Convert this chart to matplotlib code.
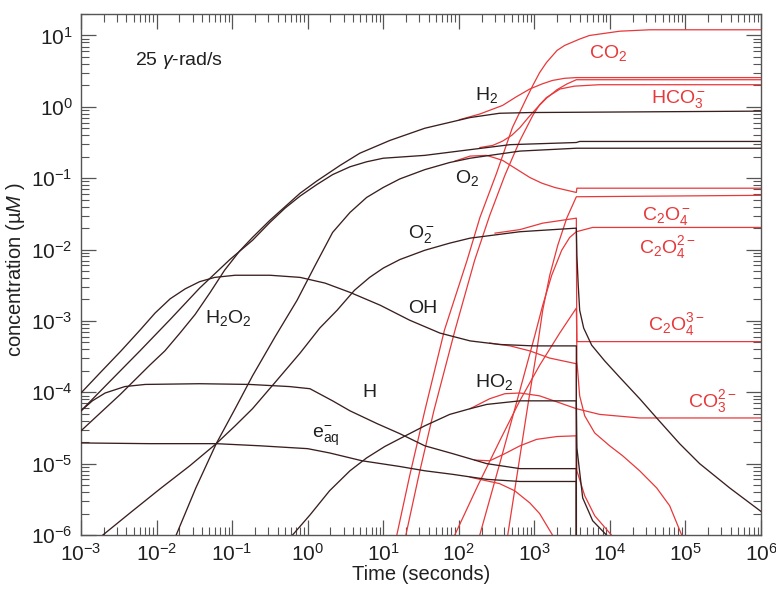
import numpy as np
import matplotlib
matplotlib.use("Agg")
import matplotlib.pyplot as plt

plt.rcParams['font.family'] = ['Liberation Sans', 'DejaVu Sans']
plt.rcParams['mathtext.fontset'] = 'custom'
plt.rcParams['mathtext.rm'] = 'Liberation Sans'
plt.rcParams['mathtext.it'] = 'Liberation Sans:italic'
plt.rcParams['mathtext.bf'] = 'Liberation Sans:bold'

# All series are given as log10(time / s) and log10(concentration / uM).
# Irradiation stops at 3600 s (log10 = 3.556); -9 marks a species that vanishes.

# ---- pure water (dark curves) ----
oh_t = [-3.0, -2.75, -2.47, -2.22, -2.02, -1.82, -1.62, -1.43, -1.23, -0.96, -0.50, -0.10, 0.23, 0.56,
        0.96, 1.35, 1.75, 2.15, 2.54, 2.99, 3.556, 3.557]
oh_c = [-4.01, -3.73, -3.42, -3.13, -2.89, -2.69, -2.55, -2.45, -2.39, -2.36, -2.36, -2.39, -2.47, -2.60,
        -2.78, -2.99, -3.17, -3.28, -3.33, -3.35, -3.35, -9]

h_t = [-3.0, -2.85, -2.68, -2.42, -2.15, -1.43, -0.77, -0.24, 0.03, 0.33, 0.56, 0.92, 1.22, 1.55, 1.92,
       2.37, 2.81, 3.556, 3.557]
h_c = [-4.26, -4.12, -4.01, -3.92, -3.89, -3.88, -3.89, -3.92, -3.95, -4.12, -4.26, -4.44, -4.58, -4.75,
       -4.86, -5.00, -5.07, -5.07, -9]

eaq_t = [-3.0, -2.09, -1.21, -0.63, 0.0, 0.29, 0.72, 1.22, 1.55, 1.92, 2.37, 2.81, 3.556, 3.557]
eaq_c = [-4.71, -4.72, -4.72, -4.75, -4.79, -4.85, -4.96, -5.04, -5.10, -5.15, -5.22, -5.25, -5.25, -9]

h2o2_t = [-3.0, -2.62, -2.22, -1.82, -1.43, -1.03, -0.73, -0.50, -0.30, -0.10, 0.12, 0.33, 0.56, 0.78,
          1.0, 1.55, 2.15, 2.68, 3.556, 3.60, 6.0]
h2o2_c = [-4.26, -3.85, -3.42, -2.98, -2.54, -2.14, -1.87, -1.62, -1.42, -1.25, -1.09, -0.95, -0.84, -0.77,
          -0.72, -0.68, -0.60, -0.53, -0.50, -0.485, -0.485]

h2_t = [-3.0, -2.48, -2.09, -1.89, -1.69, -1.49, -1.29, -1.10, -0.90, -0.73, -0.50, -0.30, -0.10, 0.12,
        0.43, 0.69, 1.09, 1.55, 2.15, 2.54, 2.94, 6.0]
h2_c = [-4.54, -4.03, -3.62, -3.42, -3.17, -2.91, -2.60, -2.29, -2.02, -1.83, -1.59, -1.40, -1.21, -1.04,
        -0.82, -0.65, -0.47, -0.30, -0.15, -0.09, -0.08, -0.06]

o2_t = [-1.74, -1.48, -1.21, -0.96, -0.73, -0.43, -0.14, 0.10, 0.33, 0.56, 0.78, 1.0, 1.22, 1.55, 1.88,
        2.15, 2.81, 3.556, 6.0]
o2_c = [-6.0, -5.34, -4.72, -4.23, -3.77, -3.22, -2.71, -2.22, -1.76, -1.48, -1.27, -1.13, -1.01, -0.88,
        -0.78, -0.72, -0.62, -0.58, -0.58]

o2m_t = [-2.71, -2.35, -1.95, -1.56, -1.21, -0.96, -0.73, -0.43, -0.10, 0.16, 0.39, 0.62, 0.82, 1.0, 1.22,
         1.55, 1.88, 2.15, 2.81, 3.556,
         3.563, 3.581, 3.60, 3.653, 3.759, 3.931, 4.13, 4.394, 4.619, 4.923, 5.188, 5.585, 6.0]
o2m_c = [-6.0, -5.69, -5.35, -5.03, -4.72, -4.47, -4.23, -3.86, -3.45, -3.10, -2.85, -2.57, -2.39, -2.26,
         -2.14, -2.01, -1.91, -1.84, -1.75, -1.70,
         -2.08, -2.50, -2.85, -3.10, -3.34, -3.56, -3.79, -4.09, -4.36, -4.72, -5.00, -5.34, -5.67]

ho2_t = [-0.20, 0.03, 0.29, 0.56, 0.78, 1.02, 1.22, 1.55, 1.88, 2.15, 2.37, 2.81, 3.556, 3.563, 3.64,
         3.772, 4.0]
ho2_c = [-6.0, -5.72, -5.38, -5.10, -4.92, -4.76, -4.65, -4.47, -4.31, -4.23, -4.17, -4.12, -4.12, -4.78,
         -5.48, -5.80, -6.05]

# ---- with oxalate (red curves) ----
co2_t = [1.18, 1.35, 1.55, 1.81, 2.11, 2.28, 2.50, 2.71, 2.90, 2.98, 3.07, 3.16, 3.30, 3.40, 3.60, 3.73,
         4.13, 4.53, 6.0]
co2_c = [-6.0, -5.17, -4.26, -3.13, -2.15, -1.55, -0.93, -0.29, 0.13, 0.30, 0.48, 0.62, 0.79, 0.86, 0.95,
         1.0, 1.06, 1.08, 1.08]

hco3_t = [1.30, 1.47, 1.67, 1.95, 2.21, 2.41, 2.61, 2.81, 2.98, 3.07, 3.16, 3.34, 3.53, 3.86, 6.0]
hco3_c = [-6.0, -5.17, -4.26, -3.13, -2.15, -1.52, -0.96, -0.47, -0.12, 0.03, 0.13, 0.25, 0.29, 0.31, 0.31]

h2_ox_t = [2.01, 2.28, 2.58, 2.76, 2.94, 3.10, 3.24, 3.40, 3.556, 6.0]
h2_ox_c = [-0.18, -0.10, 0.02, 0.14, 0.25, 0.32, 0.37, 0.40, 0.41, 0.41]

h2o2_ox_t = [2.28, 2.45, 2.58, 2.70, 2.81, 2.92, 3.03, 3.16, 3.30, 3.43, 3.556, 6.0]
h2o2_ox_c = [-0.57, -0.54, -0.48, -0.40, -0.29, -0.15, -0.02, 0.12, 0.24, 0.32, 0.38, 0.38]

o2_ox_t = [1.95, 2.15, 2.37, 2.58, 2.76, 2.94, 3.10, 3.27, 3.556, 3.563, 6.0]
o2_ox_c = [-0.76, -0.69, -0.68, -0.75, -0.87, -0.99, -1.07, -1.13, -1.20, -1.14, -1.14]

o2m_ox_t = [2.48, 2.81, 3.11, 3.556, 3.563, 3.60, 3.667, 3.799, 3.997, 4.169, 4.394, 4.619, 4.791, 4.95]
o2m_ox_c = [-1.77, -1.72, -1.63, -1.56, -3.56, -4.05, -4.33, -4.57, -4.75, -4.89, -5.10, -5.34, -5.59, -6.0]

oh_ox_t = [2.41, 2.68, 2.94, 3.20, 3.556, 3.557]
oh_ox_c = [-3.31, -3.35, -3.42, -3.52, -3.60, -9]

h_ox_t = [2.21, 2.41, 2.61, 2.81, 3.03, 3.30, 3.556, 3.563, 3.667, 3.799, 4.02]
h_ox_c = [-4.95, -4.96, -4.86, -4.75, -4.66, -4.62, -4.61, -5.10, -5.45, -5.73, -6.0]

eaq_ox_t = [2.15, 2.54, 2.74, 2.94, 3.07, 3.24]
eaq_ox_c = [-5.19, -5.28, -5.38, -5.55, -5.70, -6.0]

co3_t = [2.15, 2.41, 2.61, 2.81, 3.07, 3.34, 3.556, 3.865, 4.394, 6.0]
co3_c = [-4.23, -4.09, -4.02, -4.01, -4.05, -4.15, -4.23, -4.31, -4.36, -4.36]

c2o4m_t = [2.648, 2.78, 2.913, 3.032, 3.111, 3.204, 3.31, 3.429, 3.556, 6.0]
c2o4m_c = [-6.0, -5.10, -4.19, -3.42, -2.85, -2.36, -1.94, -1.56, -1.26, -1.24]

c2o42_t = [2.278, 2.542, 2.807, 3.005, 3.111, 3.23, 3.362, 3.468, 3.556, 3.772, 6.0]
c2o42_c = [-6.0, -5.00, -3.98, -3.21, -2.78, -2.36, -2.01, -1.83, -1.75, -1.69, -1.69]

c2o43_t = [1.947, 2.251, 2.542, 2.807, 3.071, 3.336, 3.556, 3.563, 6.0]
c2o43_c = [-6.0, -5.31, -4.68, -4.12, -3.62, -3.17, -2.82, -3.29, -3.29]

dark_series = [(oh_t, oh_c), (h_t, h_c), (eaq_t, eaq_c), (h2o2_t, h2o2_c), (h2_t, h2_c),
               (o2_t, o2_c), (o2m_t, o2m_c), (ho2_t, ho2_c)]
red_series = [(co2_t, co2_c), (hco3_t, hco3_c), (h2_ox_t, h2_ox_c), (h2o2_ox_t, h2o2_ox_c),
              (o2_ox_t, o2_ox_c), (o2m_ox_t, o2m_ox_c), (oh_ox_t, oh_ox_c), (h_ox_t, h_ox_c),
              (eaq_ox_t, eaq_ox_c), (co3_t, co3_c), (c2o4m_t, c2o4m_c), (c2o42_t, c2o42_c),
              (c2o43_t, c2o43_c)]

# label text, log10 t, log10 c (left / baseline anchor)
dark_labels = [(r'H$_2$', 2.21, 0.09), (r'O$_2$', 1.95, -1.07), (r'O$_2^-$', 1.33, -1.84),
               ('OH', 1.33, -2.89), (r'HO$_2$', 2.21, -3.93), ('H', 0.72, -4.07),
               (r'e$_{\mathrm{aq}}^{-}$', 0.06, -4.645), (r'H$_2$O$_2$', -1.36, -3.03)]
red_labels = [(r'CO$_2$', 3.73, 0.69), (r'HCO$_3^-$', 4.55, 0.05), (r'C$_2$O$_4^-$', 4.43, -1.59),
              (r'C$_2$O$_4^{2-}$', 4.39, -2.05), (r'C$_2$O$_4^{3-}$', 4.50, -3.13),
              (r'CO$_3^{2-}$', 5.03, -4.21)]

RED = '#e8383a'
DARK = '#3a1f1f'

fig = plt.figure(figsize=(7.76, 5.92), dpi=100)
ax = fig.add_axes([81 / 776, 1 - 535 / 592, 680 / 776, 521 / 592])

for lt, lc in red_series:
    ax.plot(10 ** np.asarray(lt), 10 ** np.asarray(lc), color=RED, lw=0.9, zorder=2)
for lt, lc in dark_series:
    ax.plot(10 ** np.asarray(lt), 10 ** np.asarray(lc), color=DARK, lw=0.95, zorder=3)

for txt, lt, lc in dark_labels:
    ax.text(10 ** lt, 10 ** lc, txt, fontsize=14, color='#202020', ha='left', va='baseline', zorder=5)
for txt, lt, lc in red_labels:
    ax.text(10 ** lt, 10 ** lc, txt, fontsize=14, color=RED, ha='left', va='baseline', zorder=5)
ax.text(10 ** -2.29, 10 ** 0.58, r'25 $\gamma$-rad/s', fontsize=14, color='#202020',
        ha='left', va='baseline')

ax.set_xscale('log')
ax.set_yscale('log')
ax.set_xlim(1e-3, 1e6)
ax.set_ylim(1e-6, 20)
ax.xaxis.set_major_locator(matplotlib.ticker.LogLocator(base=10, numticks=20))
ax.yaxis.set_major_locator(matplotlib.ticker.LogLocator(base=10, numticks=20))
ax.xaxis.set_minor_locator(matplotlib.ticker.LogLocator(base=10, subs=np.arange(2, 10), numticks=100))
ax.yaxis.set_minor_locator(matplotlib.ticker.LogLocator(base=10, subs=np.arange(2, 10), numticks=100))
ax.xaxis.set_minor_formatter(matplotlib.ticker.NullFormatter())
ax.yaxis.set_minor_formatter(matplotlib.ticker.NullFormatter())

ax.tick_params(which='both', direction='in', top=True, right=True, colors='#555555',
               labelcolor='#202020', labelsize=15)
ax.tick_params(which='major', length=11, width=0.9, pad=6)
ax.tick_params(which='minor', length=5.5, width=0.8)
for s in ax.spines.values():
    s.set_color('#555555')
    s.set_linewidth(1.0)

ax.set_xlabel('Time (seconds)', fontsize=14.5, labelpad=0, color='#202020')
ax.set_ylabel('concentration (\u00b5$M$ )', fontsize=14.5, color='#202020')
ax.yaxis.set_label_coords(-0.08, 0.51)

fig.savefig('out.png', dpi=100)
